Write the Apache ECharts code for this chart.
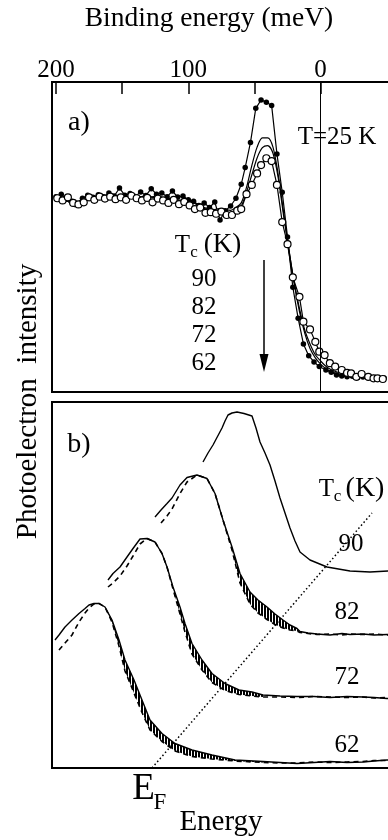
<!DOCTYPE html>
<html>
<head>
<meta charset="utf-8">
<script src="https://cdn.jsdelivr.net/npm/echarts@6/dist/echarts.min.js"></script>
<style>
  html, body { margin: 0; padding: 0; background: #fff; }
  #chart { width: 388px; height: 840px; }
</style>
</head>
<body>
<div id="chart"></div>
<script>
// ---- panel a: spectra at T = 25 K, binding energy in meV ----
const tc90E = [200,196,192,188,184,180,176,172,168,164,160,156,152,148,144,140,136,132,128,124,120,116,112,108,104,100,96,92,88,84,80,76,72,68,64,60,57,53,49,45,41,37,33,29,25,21,17,13,9,5,1,-4,-8,-12,-16,-20,-24,-28,-32,-36,-40,-44,-48];
const tc90I = [63.0,63.8,62.2,61.5,60.8,62.5,63.5,62.8,63.6,63.0,64.2,63.2,65.8,63.5,64.0,63.1,64.5,63.4,65.6,63.8,64.2,63.0,64.8,62.9,63.2,62.0,61.5,60.2,61.0,59.5,61.3,55.5,58.5,60.0,62.5,67.0,72.4,80.5,91.5,94.2,93.5,92.4,76.8,64.4,50.0,33.8,23.8,15.5,11.7,9.7,8.2,7.1,6.4,5.5,5.2,4.9,5.1,4.6,4.8,4.5,4.7,4.4,4.5];

const tc82E = [200,192,186,180,172,164,156,148,140,132,124,116,108,100,92,84,76,68,64,60,56,52,48,44,40,36,32,28,24,20,16,12,8,4,0,-4,-8,-12,-20,-30,-40,-48];
const tc82I = [62.5,61.8,60.0,62.5,63.0,62.6,63.5,62.8,63.4,62.5,63.2,62.4,62.0,61.5,60.5,58.5,59.2,58.6,59.5,61.0,66.0,73.0,79.0,82.0,82.0,79.0,70.0,58.0,46.0,35.0,26.0,19.0,14.0,11.0,9.0,7.5,6.5,6.0,5.2,4.8,4.5,4.4];

const tc72E = tc82E;
const tc72I = [62.8,62.4,59.8,61.5,62.4,63.2,62.6,63.0,62.3,63.4,62.5,62.6,61.5,61.8,60.0,59.0,58.0,57.8,58.8,60.0,64.5,70.0,75.5,78.8,79.5,77.0,69.0,57.0,46.0,35.5,27.0,20.0,15.5,12.0,10.0,8.3,7.2,6.5,5.5,5.0,4.6,4.5];

const tc62E = [199,195,191,187,183,179,175,171,167,163,159,155,151,147,143,139,135,131,127,123,119,115,111,107,103,99,95,91,87,83,79,75,71,67,63,60,56,52,48,45,41,37,33,29,25,21,16,13,8,4,1,-3,-7,-11,-16,-20,-23,-27,-31,-36,-40,-43,-47];
const tc62I = [62.5,61.8,62.8,61.0,60.5,61.2,62.8,62.0,63.0,62.4,63.0,62.2,62.8,62.0,63.3,62.5,61.8,62.6,61.2,62.4,61.8,61.0,62.0,60.6,61.3,60.2,59.0,59.5,57.8,58.0,57.5,58.2,57.1,57.1,58.5,59.0,63.8,66.8,70.5,73.2,75.4,74.5,66.8,54.8,47.7,37.0,30.7,22.7,20.2,16.2,13.0,11.9,9.3,8.2,7.1,6.2,6.0,4.9,5.8,4.9,4.4,4.4,4.2];

const topTicks = [200, 150, 100, 50, 0];
const topLabels = [200, 100, 0];
const tcList = ['90', '82', '72', '62'];

// ---- panel b: shifted spectra (arbitrary energy / intensity units) ----
const b90X = [151,156,161,165.5,170,173,176,180,185,192,200,204,208,213,218,223,228,233,238,243,248,258,275,298,318,336,348];
const b90Y = [306,315,323,331.5,340,347,353,355,356,354.5,352,340,326,315,303,287,270,255,240,227,216,208,201,197,196,197,197];

const b82X = [103,109,115,120,128,135,145,155,163,171,180,188,198,206,215,223,231,238,245,248,256,265,278,290,298,311,322,335,348];
const b82Y = [251,258,264.5,270,283,290.5,293,289.5,274.5,248,221,194.5,176,168,161,154,148,143,139.5,136.5,135,134,133,134.5,133.5,134,133,133.5,133];
const b82Fit = [null,245,252,259,274.5,286,293,289.5,274.5,248,218,185,164,155,148.5,143.5,140,138,137,135.5,134.5,133.5,134,133,134,133.5,134,133,133];

const b72X = [56,61,68,75,81,88,95,103,110,115,121,128,133,140,150,160,173,187,200,211,228,245,262,278,295,311,322,335,348];
const b72Y = [188,194.5,201,211,219.5,229,229.5,226,214.5,201,181,161,144.5,124.5,108,94.5,84.5,78,76,73,72,71.5,71.5,70.5,71.5,71,70.5,69.5,70];
const b72Fit = [181,185,192,202,212,224,229.5,226,214.5,201,179,154,136,114,98,85.5,77.5,73.5,72,71,71,70.5,71.5,71,70.5,71,70,70.5,70];

const b62X = [3,7,13,20,27,33,37,42,47,53,60,67,73,82,90,98,110,123,140,160,183,211,228,245,262,278,295,311,322,335,348];
const b62Y = [128,133,141,148,154.5,159.5,163,164.5,164.5,161,148,128,108,88,68,48,34.5,24.5,18,13,8,6.5,5.5,4.5,5.5,6.5,5.5,6,7,8,8];
const b62Fit = [null,118,125,133,146,155,160,164,164.5,161,146,122,97,75,55.5,38,26.5,17,11.5,9,7,5.5,5,5,6,5.5,6,6.5,7.5,7.5,8];

// hatched ranges (between spectrum and dashed curve)
const b82Hatch = [180, 248];
const b72Hatch = [121, 211];
const b62Hatch = [53, 211];

// Fermi level line
const efX = [100, 320];
const efY = [0, 255];

const SERIF = '"Liberation Serif", "DejaVu Serif", serif';

const zip = (xs, ys) => xs.map((x, i) => [x, ys[i]]);

// vertical stripe pattern for hatching
const stripe = document.createElement('canvas');
stripe.width = 3; stripe.height = 3;
const sctx = stripe.getContext('2d');
sctx.fillStyle = '#000';
sctx.fillRect(0, 0, 2, 3);
const hatchFill = { type: 'pattern', image: stripe, repeat: 'repeat' };

function renderHatch(params, api) {
  if (params.dataIndexInside !== 0) return null;
  const n = params.dataInsideLength;
  const top = [], bottom = [];
  for (let j = 0; j < n; j++) {
    const x = api.value(0, j);
    top.push(api.coord([x, api.value(1, j)]));
    bottom.unshift(api.coord([x, api.value(2, j)]));
  }
  return { type: 'polygon', shape: { points: top.concat(bottom) }, style: { fill: hatchFill, stroke: null } };
}

function hatchSeries(xs, ys, fit, range) {
  const rows = [];
  xs.forEach((x, i) => {
    if (x >= range[0] && x <= range[1]) rows.push([x, ys[i], fit[i]]);
  });
  return { type: 'custom', xAxisIndex: 1, yAxisIndex: 1, data: rows, renderItem: renderHatch, silent: true, z: 1 };
}

function solid(xs, ys) {
  return { type: 'line', xAxisIndex: 1, yAxisIndex: 1, data: zip(xs, ys), showSymbol: false,
    lineStyle: { color: '#000', width: 1.4 }, silent: true, z: 3 };
}
function dashed(xs, ys) {
  return { type: 'line', xAxisIndex: 1, yAxisIndex: 1, data: zip(xs, ys), showSymbol: false,
    lineStyle: { color: '#000', width: 1.6, type: [5, 4] }, silent: true, z: 2 };
}

function txt(text, x, y, size, extra) {
  return Object.assign({ type: 'text', x: x, y: y, silent: true,
    style: { text: text, fontSize: size, fontFamily: SERIF, fill: '#000',
      align: 'center', verticalAlign: 'middle', textAlign: 'center', textVerticalAlign: 'middle' } }, extra || {});
}

const hiddenAxis = {
  axisLine: { show: false }, axisTick: { show: false }, axisLabel: { show: false }, splitLine: { show: false }
};

const chart = echarts.init(document.getElementById('chart'), null, { renderer: 'canvas' });

const option = {
  animation: false,
  backgroundColor: '#fff',
  grid: [
    { left: 52, top: 82, width: 348, height: 310, outerBoundsMode: 'none', containLabel: false,
      show: true, borderColor: '#000', borderWidth: 2, backgroundColor: 'transparent' },
    { left: 52, top: 402, width: 348, height: 366, outerBoundsMode: 'none', containLabel: false,
      show: true, borderColor: '#000', borderWidth: 2, backgroundColor: 'transparent' }
  ],
  xAxis: [
    {
      gridIndex: 0, type: 'value', position: 'top', inverse: true, min: -60, max: 203,
      axisLine: { show: false, onZero: false },
      axisTick: { show: true, inside: true, length: 12, customValues: topTicks, lineStyle: { color: '#000', width: 1.5 } },
      axisLabel: { show: true, customValues: topLabels, color: '#000', fontSize: 25, fontFamily: SERIF, margin: -1 },
      splitLine: { show: false }
    },
    Object.assign({ gridIndex: 1, type: 'value', min: 0, max: 348 }, hiddenAxis)
  ],
  yAxis: [
    Object.assign({ gridIndex: 0, type: 'value', min: 0, max: 100 }, hiddenAxis),
    Object.assign({ gridIndex: 1, type: 'value', min: 0, max: 366 }, hiddenAxis)
  ],
  series: [
    {
      name: '90', type: 'line', xAxisIndex: 0, yAxisIndex: 0, data: zip(tc90E, tc90I),
      symbol: 'circle', symbolSize: 5.5, itemStyle: { color: '#000' },
      lineStyle: { color: '#000', width: 1.2 }, silent: true,
      markLine: { silent: true, symbol: ['none', 'none'], label: { show: false },
        lineStyle: { color: '#000', width: 1, type: 'solid' }, data: [{ xAxis: 0 }] }
    },
    {
      name: '82', type: 'line', xAxisIndex: 0, yAxisIndex: 0, data: zip(tc82E, tc82I),
      showSymbol: false, smooth: 0.3, lineStyle: { color: '#000', width: 1.2 }, silent: true
    },
    {
      name: '72', type: 'line', xAxisIndex: 0, yAxisIndex: 0, data: zip(tc72E, tc72I),
      showSymbol: false, smooth: 0.3, lineStyle: { color: '#000', width: 1.2 }, silent: true
    },
    {
      name: '62', type: 'line', xAxisIndex: 0, yAxisIndex: 0, data: zip(tc62E, tc62I),
      symbol: 'circle', symbolSize: 7, itemStyle: { color: '#fff', borderColor: '#000', borderWidth: 1.2 },
      lineStyle: { color: '#000', width: 1.2 }, silent: true
    },
    hatchSeries(b82X, b82Y, b82Fit, b82Hatch),
    hatchSeries(b72X, b72Y, b72Fit, b72Hatch),
    hatchSeries(b62X, b62Y, b62Fit, b62Hatch),
    solid(b90X, b90Y),
    dashed(b82X, b82Fit), solid(b82X, b82Y),
    dashed(b72X, b72Fit), solid(b72X, b72Y),
    dashed(b62X, b62Fit), solid(b62X, b62Y),
    {
      type: 'line', xAxisIndex: 1, yAxisIndex: 1, data: zip(efX, efY), showSymbol: false,
      lineStyle: { color: '#000', width: 1.5, type: [1.5, 2.5] }, silent: true, z: 4
    }
  ],
  graphic: [
    txt('Binding energy (meV)', 209, 19, 27.5),
    txt('a)', 79, 123, 28),
    txt('T=25 K', 337, 137.5, 25),
    txt('T', 182.5, 245, 25),
    txt('c', 194, 252.5, 17),
    txt('(K)', 222.5, 245, 27),
    txt(tcList[0], 204, 279, 25),
    txt(tcList[1], 204, 307, 25),
    txt(tcList[2], 204, 335, 25),
    txt(tcList[3], 204, 363, 25),
    { type: 'line', silent: true, shape: { x1: 264, y1: 260, x2: 264, y2: 358 }, style: { stroke: '#000', lineWidth: 1.5 } },
    { type: 'polygon', silent: true, shape: { points: [[259.5, 354], [268.5, 354], [264, 372]] }, style: { fill: '#000' } },
    txt('b)', 79, 445, 28),
    txt('T', 326.5, 489, 25),
    txt('c', 337.5, 497, 17),
    txt('(K)', 365, 489, 28),
    txt(tcList[0], 351, 544, 25),
    txt(tcList[1], 347, 612, 25),
    txt(tcList[2], 347, 677, 25),
    txt(tcList[3], 347, 745, 25),
    txt('E', 143.5, 789.5, 37),
    txt('F', 160, 802.5, 23),
    txt('Energy', 221, 822, 29),
    txt('Photoelectron  intensity', 28, 401.5, 29, { rotation: Math.PI / 2 })
  ]
};

chart.setOption(option);
</script>
</body>
</html>
